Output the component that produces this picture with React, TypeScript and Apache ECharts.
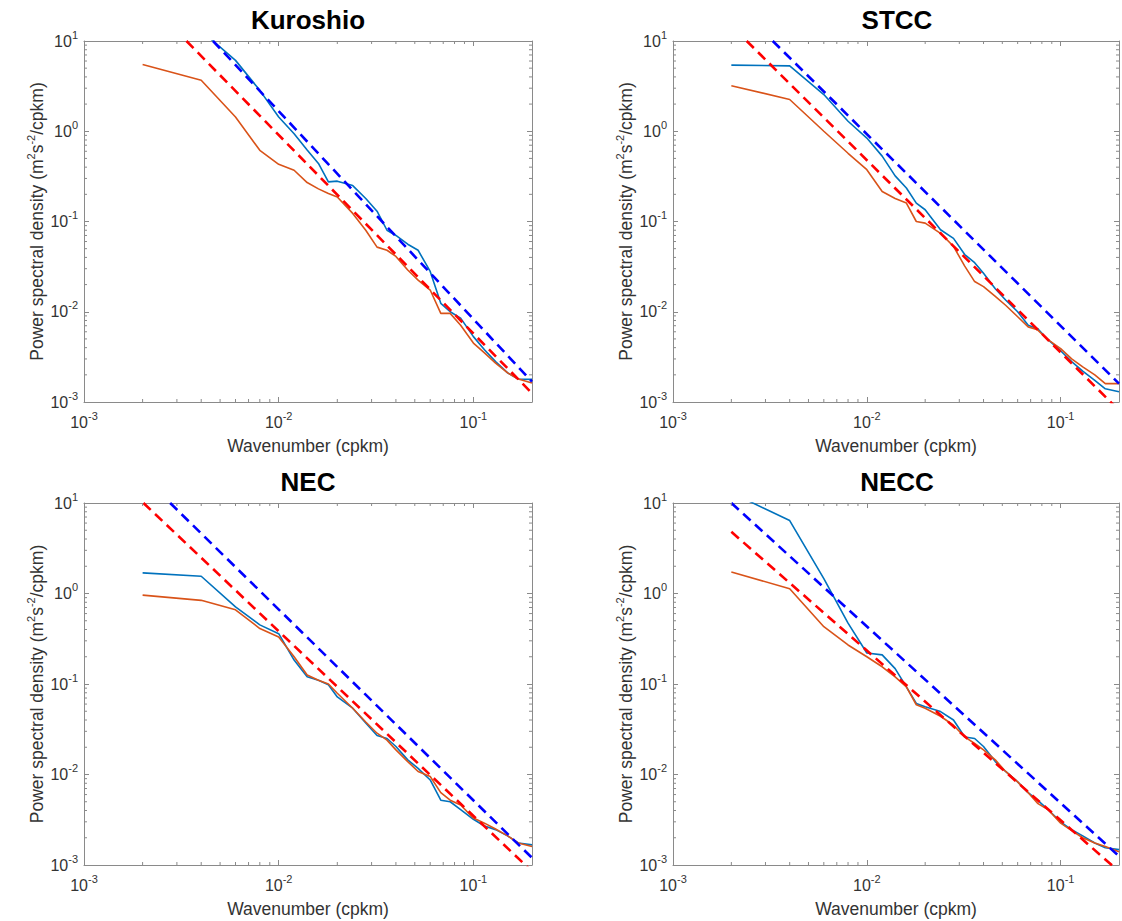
import React, { useEffect, useRef } from 'react';
import * as echarts from 'echarts';

// Wavenumbers (cpkm) at which the spectra were read
const K = [0.002, 0.004, 0.006, 0.008, 0.010, 0.012, 0.014, 0.016, 0.018, 0.020, 0.024, 0.028, 0.032, 0.036, 0.040, 0.046, 0.052, 0.060, 0.068, 0.076, 0.086, 0.100, 0.114, 0.130, 0.150, 0.170, 0.200];

const TITLES = ['Kuroshio', 'STCC', 'NEC', 'NECC'];

// Blue solid spectra
const kuroshioBlue = [20, 13, 6.1, 2.84, 1.44, 0.94, 0.62, 0.44, 0.275, 0.28, 0.25, 0.18, 0.13, 0.08, 0.07, 0.056, 0.048, 0.028, 0.0124, 0.0100, 0.0085, 0.0053, 0.0038, 0.0028, 0.0021, 0.0018, 0.00178];
const stccBlue = [5.4, 5.3, 2.55, 1.29, 0.84, 0.53, 0.32, 0.235, 0.16, 0.135, 0.081, 0.065, 0.043, 0.035, 0.0267, 0.018, 0.0135, 0.010, 0.0071, 0.0065, 0.0049, 0.0037, 0.0028, 0.0022, 0.00174, 0.0014, 0.0013];
const necBlue = [1.69, 1.55, 0.71, 0.45, 0.36, 0.184, 0.12, 0.11, 0.098, 0.072, 0.054, 0.037, 0.027, 0.025, 0.0204, 0.0145, 0.0117, 0.0087, 0.0052, 0.005, 0.0041, 0.0032, 0.0027, 0.00246, 0.0021, 0.00175, 0.00167];
const neccBlue = [13, 6.4, 1.46, 0.47, 0.22, 0.21, 0.148, 0.093, 0.061, 0.056, 0.0496, 0.04, 0.026, 0.025, 0.0204, 0.0139, 0.0108, 0.0083, 0.0063, 0.0052, 0.0041, 0.003, 0.00245, 0.0021, 0.00175, 0.00155, 0.00148];

// Orange solid spectra
const kuroshioOrange = [5.5, 3.67, 1.44, 0.615, 0.43, 0.37, 0.27, 0.23, 0.204, 0.187, 0.123, 0.080, 0.052, 0.048, 0.041, 0.029, 0.0224, 0.0174, 0.0096, 0.0096, 0.0071, 0.0045, 0.0035, 0.0027, 0.0021, 0.0018, 0.00162];
const stccOrange = [3.2, 2.25, 1.0, 0.57, 0.375, 0.215, 0.18, 0.16, 0.1, 0.096, 0.074, 0.053, 0.032, 0.0216, 0.019, 0.0148, 0.0118, 0.0088, 0.0068, 0.0063, 0.0049, 0.0039, 0.0030, 0.00245, 0.002, 0.0016, 0.0016];
const necOrange = [0.96, 0.84, 0.66, 0.41, 0.33, 0.2, 0.126, 0.11, 0.1, 0.079, 0.054, 0.038, 0.0286, 0.024, 0.0187, 0.0139, 0.0108, 0.0095, 0.0063, 0.0052, 0.0046, 0.0033, 0.0029, 0.0025, 0.0021, 0.00175, 0.0016];
const neccOrange = [1.73, 1.13, 0.43, 0.27, 0.2, 0.155, 0.12, 0.093, 0.059, 0.054, 0.044, 0.035, 0.026, 0.022, 0.0187, 0.0145, 0.0108, 0.0083, 0.0063, 0.0048, 0.0041, 0.0029, 0.0024, 0.002, 0.00175, 0.0016, 0.0014];

// Dashed power-law fits: [k, psd] end points
const kuroshioFitBlue = [[0.0046, 10], [0.2, 0.00168]];
const kuroshioFitRed = [[0.00336, 10], [0.2, 0.00125]];
const stccFitBlue = [[0.00327, 10], [0.2, 0.0016]];
const stccFitRed = [[0.0024, 10], [0.2, 0.00081]];
const necFitBlue = [[0.00277, 10], [0.2, 0.0012]];
const necFitRed = [[0.00202, 10], [0.2, 0.00085]];
const neccFitBlue = [[0.002, 10], [0.2, 0.00125]];
const neccFitRed = [[0.002, 4.8], [0.2, 0.00085]];

const BLUE_SERIES = [kuroshioBlue, stccBlue, necBlue, neccBlue];
const ORANGE_SERIES = [kuroshioOrange, stccOrange, necOrange, neccOrange];
const FIT_BLUE = [kuroshioFitBlue, stccFitBlue, necFitBlue, neccFitBlue];
const FIT_RED = [kuroshioFitRed, stccFitRed, necFitRed, neccFitRed];

const X_RANGE = [0.001, 0.2];
const Y_RANGE = [0.001, 10];
const X_MINOR = [0.002, 0.003, 0.004, 0.005, 0.006, 0.007, 0.008, 0.009, 0.02, 0.03, 0.04, 0.05, 0.06, 0.07, 0.08, 0.09];
const Y_MINOR = [0.002, 0.003, 0.004, 0.005, 0.006, 0.007, 0.008, 0.009, 0.02, 0.03, 0.04, 0.05, 0.06, 0.07, 0.08, 0.09, 0.2, 0.3, 0.4, 0.5, 0.6, 0.7, 0.8, 0.9, 2, 3, 4, 5, 6, 7, 8, 9];

const GRIDS = [
  { left: 84, top: 41, width: 448, height: 361 },
  { left: 673, top: 41, width: 448, height: 361 },
  { left: 84, top: 503, width: 448, height: 362 },
  { left: 673, top: 503, width: 448, height: 362 },
];

const FONT = '"Liberation Sans", Arial, Helvetica, sans-serif';
const AX = '#8a8a8a';
const LBL = '#333333';

const powLabel = (v: number) => {
  const l = Math.log10(v);
  const e = Math.round(l);
  if (Math.abs(l - e) > 1e-6) return '';
  return '{b|10}{s|' + e + '}';
};

const tickRich = {
  b: { fontSize: 16, lineHeight: 24, color: LBL, fontFamily: FONT },
  s: { fontSize: 11, lineHeight: 6, verticalAlign: 'top', color: LBL, fontFamily: FONT },
};

function buildOption() {
  const xAxis: any[] = [];
  const yAxis: any[] = [];
  const series: any[] = [];
  const graphic: any[] = [];

  GRIDS.forEach((g, i) => {
    const common = {
      type: 'log',
      logBase: 10,
      gridIndex: i,
      splitLine: { show: false },
      axisLine: { show: true, lineStyle: { color: AX, width: 1 } },
      axisTick: { show: true, inside: true, length: 5, lineStyle: { color: AX, width: 1 } },
    };
    xAxis.push({
      ...common,
      min: X_RANGE[0],
      max: X_RANGE[1],
      position: 'bottom',
      axisLabel: { formatter: powLabel, margin: 8, rich: tickRich, color: LBL },
      name: 'Wavenumber (cpkm)',
      nameLocation: 'middle',
      nameGap: 35,
      nameTextStyle: { fontSize: 17.5, color: LBL, fontFamily: FONT },
    });
    xAxis.push({
      ...common,
      min: X_RANGE[0],
      max: X_RANGE[1],
      position: 'top',
      axisLabel: { show: false },
    });
    yAxis.push({
      ...common,
      min: Y_RANGE[0],
      max: Y_RANGE[1],
      position: 'left',
      axisLabel: { formatter: powLabel, margin: 6, rich: tickRich, color: LBL },
      name: '{n|Power spectral density (m}{s|2}{n|s}{s|-2}{n|/cpkm)}',
      nameLocation: 'middle',
      nameGap: 35,
      nameRotate: 90,
      nameTextStyle: {
        color: LBL,
        fontFamily: FONT,
        rich: {
          n: { fontSize: 17.5, lineHeight: 24, color: LBL, fontFamily: FONT },
          s: { fontSize: 11, lineHeight: 8, verticalAlign: 'top', color: LBL, fontFamily: FONT },
        },
      },
    });
    yAxis.push({
      ...common,
      min: Y_RANGE[0],
      max: Y_RANGE[1],
      position: 'right',
      axisLabel: { show: false },
    });

    const xi = 2 * i;
    const yi = 2 * i;

    series.push({
      type: 'line',
      xAxisIndex: xi,
      yAxisIndex: yi,
      data: K.map((k, j) => [k, BLUE_SERIES[i][j]]),
      showSymbol: false,
      symbol: 'none',
      clip: true,
      silent: true,
      lineStyle: { color: '#0072BD', width: 1.6 },
      itemStyle: { color: '#0072BD' },
      z: 2,
    });
    series.push({
      type: 'line',
      xAxisIndex: xi,
      yAxisIndex: yi,
      data: K.map((k, j) => [k, ORANGE_SERIES[i][j]]),
      showSymbol: false,
      symbol: 'none',
      clip: true,
      silent: true,
      lineStyle: { color: '#D95319', width: 1.6 },
      itemStyle: { color: '#D95319' },
      z: 2,
    });
    series.push({
      type: 'line',
      xAxisIndex: xi,
      yAxisIndex: yi,
      data: FIT_BLUE[i],
      showSymbol: false,
      symbol: 'none',
      clip: true,
      silent: true,
      lineStyle: { color: '#0000FF', width: 2.6, type: [10, 6] },
      itemStyle: { color: '#0000FF' },
      z: 3,
    });
    series.push({
      type: 'line',
      xAxisIndex: xi,
      yAxisIndex: yi,
      data: FIT_RED[i],
      showSymbol: false,
      symbol: 'none',
      clip: true,
      silent: true,
      lineStyle: { color: '#FF0000', width: 2.6, type: [10, 6] },
      itemStyle: { color: '#FF0000' },
      z: 3,
    });
    // minor ticks on bottom/top
    series.push({
      type: 'custom',
      xAxisIndex: xi,
      yAxisIndex: yi,
      silent: true,
      clip: false,
      encode: { x: 0, y: 1 },
      data: X_MINOR.map((v) => [v, Y_RANGE[0]]),
      renderItem: (params: any, api: any) => {
        const v = api.value(0);
        const b = api.coord([v, Y_RANGE[0]]);
        const t = api.coord([v, Y_RANGE[1]]);
        return {
          type: 'group',
          children: [
            { type: 'line', shape: { x1: b[0], y1: b[1], x2: b[0], y2: b[1] - 3 }, style: { stroke: AX, lineWidth: 1 } },
            { type: 'line', shape: { x1: t[0], y1: t[1], x2: t[0], y2: t[1] + 3 }, style: { stroke: AX, lineWidth: 1 } },
          ],
        };
      },
      z: 4,
    });
    // minor ticks on left/right
    series.push({
      type: 'custom',
      xAxisIndex: xi,
      yAxisIndex: yi,
      silent: true,
      clip: false,
      encode: { x: 0, y: 1 },
      data: Y_MINOR.map((v) => [X_RANGE[0], v]),
      renderItem: (params: any, api: any) => {
        const v = api.value(1);
        const l = api.coord([X_RANGE[0], v]);
        const r = api.coord([X_RANGE[1], v]);
        return {
          type: 'group',
          children: [
            { type: 'line', shape: { x1: l[0], y1: l[1], x2: l[0] + 3, y2: l[1] }, style: { stroke: AX, lineWidth: 1 } },
            { type: 'line', shape: { x1: r[0], y1: r[1], x2: r[0] - 3, y2: r[1] }, style: { stroke: AX, lineWidth: 1 } },
          ],
        };
      },
      z: 4,
    });

    graphic.push({
      type: 'text',
      x: g.left + g.width / 2,
      y: g.top - 21,
      style: {
        text: TITLES[i],
        font: 'bold 26px ' + FONT,
        fill: '#000',
        align: 'center',
        verticalAlign: 'middle',
        textAlign: 'center',
        textVerticalAlign: 'middle',
      },
    });
  });

  return {
    animation: false,
    backgroundColor: '#ffffff',
    grid: GRIDS.map((g) => ({ ...g, containLabel: false })),
    xAxis,
    yAxis,
    series,
    graphic,
  };
}

export default function App() {
  const ref = useRef<HTMLDivElement>(null);
  useEffect(() => {
    if (!ref.current) return;
    const chart = echarts.init(ref.current, undefined, { renderer: 'svg' });
    chart.setOption(buildOption() as any);
    return () => chart.dispose();
  }, []);
  return (
    <div
      ref={ref}
      style={{ position: 'absolute', left: 0, top: 0, width: 1122, height: 921, background: '#fff' }}
    />
  );
}
